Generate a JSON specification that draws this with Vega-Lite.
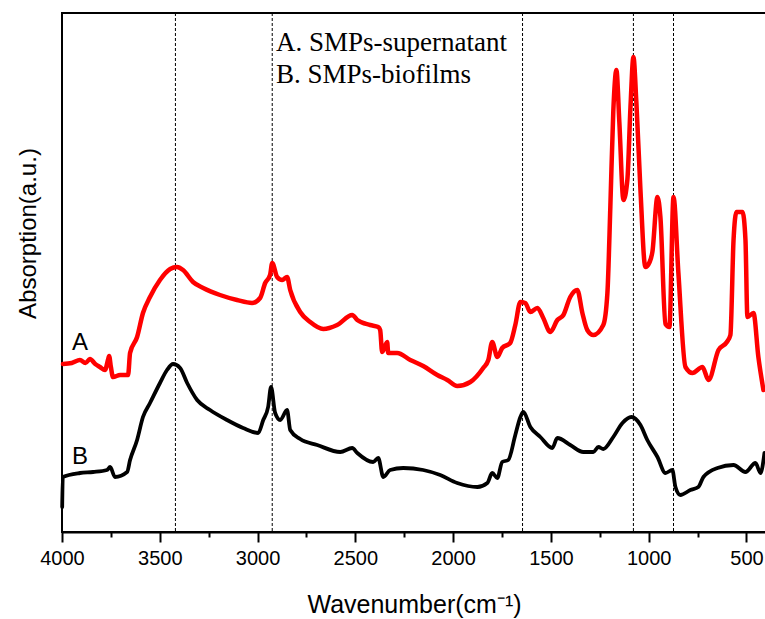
{
  "$schema": "https://vega.github.io/schema/vega-lite/v6.json",
  "width": 704,
  "height": 519,
  "autosize": {"type": "none"},
  "padding": {"left": 62, "top": 13, "right": 0, "bottom": 87},
  "background": "white",
  "config": {
    "view": {"stroke": "black", "strokeWidth": 2},
    "font": "Liberation Sans"
  },
  "datasets": {
    "spectra": [
      {"series":"A","wn":3995,"abs":168},{"series":"A","wn":3950,"abs":169},{"series":"A","wn":3908,"abs":172},{"series":"A","wn":3880,"abs":169},{"series":"A","wn":3857,"abs":173},{"series":"A","wn":3830,"abs":168},{"series":"A","wn":3806,"abs":165},{"series":"A","wn":3780,"abs":162},{"series":"A","wn":3765,"abs":172},{"series":"A","wn":3759,"abs":176},{"series":"A","wn":3750,"abs":165},{"series":"A","wn":3739,"abs":155},{"series":"A","wn":3703,"abs":157},{"series":"A","wn":3662,"abs":157},{"series":"A","wn":3652,"abs":179},{"series":"A","wn":3616,"abs":195},{"series":"A","wn":3586,"abs":219},{"series":"A","wn":3550,"abs":235},{"series":"A","wn":3499,"abs":252},{"series":"A","wn":3447,"abs":263},{"series":"A","wn":3412,"abs":265},{"series":"A","wn":3381,"abs":262},{"series":"A","wn":3330,"abs":250},{"series":"A","wn":3278,"abs":244},{"series":"A","wn":3192,"abs":237},{"series":"A","wn":3105,"abs":232},{"series":"A","wn":3028,"abs":229},{"series":"A","wn":2987,"abs":234},{"series":"A","wn":2961,"abs":249},{"series":"A","wn":2936,"abs":257},{"series":"A","wn":2925,"abs":269},{"series":"A","wn":2900,"abs":255},{"series":"A","wn":2874,"abs":252},{"series":"A","wn":2849,"abs":255},{"series":"A","wn":2833,"abs":242},{"series":"A","wn":2782,"abs":220},{"series":"A","wn":2731,"abs":210},{"series":"A","wn":2664,"abs":203},{"series":"A","wn":2593,"abs":207},{"series":"A","wn":2516,"abs":217},{"series":"A","wn":2490,"abs":212},{"series":"A","wn":2424,"abs":207},{"series":"A","wn":2383,"abs":205},{"series":"A","wn":2373,"abs":202},{"series":"A","wn":2363,"abs":180},{"series":"A","wn":2337,"abs":190},{"series":"A","wn":2332,"abs":179},{"series":"A","wn":2286,"abs":179},{"series":"A","wn":2219,"abs":172},{"series":"A","wn":2153,"abs":166},{"series":"A","wn":2081,"abs":157},{"series":"A","wn":2030,"abs":152},{"series":"A","wn":1979,"abs":146},{"series":"A","wn":1912,"abs":150},{"series":"A","wn":1846,"abs":164},{"series":"A","wn":1820,"abs":172},{"series":"A","wn":1800,"abs":190},{"series":"A","wn":1774,"abs":175},{"series":"A","wn":1749,"abs":184},{"series":"A","wn":1708,"abs":189},{"series":"A","wn":1682,"abs":207},{"series":"A","wn":1656,"abs":230},{"series":"A","wn":1631,"abs":229},{"series":"A","wn":1605,"abs":220},{"series":"A","wn":1569,"abs":224},{"series":"A","wn":1539,"abs":214},{"series":"A","wn":1503,"abs":200},{"series":"A","wn":1467,"abs":212},{"series":"A","wn":1436,"abs":217},{"series":"A","wn":1401,"abs":235},{"series":"A","wn":1365,"abs":242},{"series":"A","wn":1339,"abs":219},{"series":"A","wn":1314,"abs":202},{"series":"A","wn":1283,"abs":197},{"series":"A","wn":1232,"abs":207},{"series":"A","wn":1211,"abs":239},{"series":"A","wn":1196,"abs":325},{"series":"A","wn":1181,"abs":420},{"series":"A","wn":1165,"abs":462},{"series":"A","wn":1150,"abs":410},{"series":"A","wn":1129,"abs":332},{"series":"A","wn":1109,"abs":352},{"series":"A","wn":1093,"abs":425},{"series":"A","wn":1078,"abs":475},{"series":"A","wn":1063,"abs":430},{"series":"A","wn":1042,"abs":342},{"series":"A","wn":1017,"abs":265},{"series":"A","wn":995,"abs":270},{"series":"A","wn":981,"abs":280},{"series":"A","wn":955,"abs":335},{"series":"A","wn":940,"abs":315},{"series":"A","wn":914,"abs":208},{"series":"A","wn":894,"abs":205},{"series":"A","wn":873,"abs":335},{"series":"A","wn":848,"abs":259},{"series":"A","wn":812,"abs":165},{"series":"A","wn":776,"abs":159},{"series":"A","wn":725,"abs":165},{"series":"A","wn":694,"abs":152},{"series":"A","wn":643,"abs":182},{"series":"A","wn":600,"abs":190},{"series":"A","wn":582,"abs":197},{"series":"A","wn":566,"abs":292},{"series":"A","wn":551,"abs":320},{"series":"A","wn":520,"abs":320},{"series":"A","wn":505,"abs":292},{"series":"A","wn":495,"abs":215},{"series":"A","wn":464,"abs":219},{"series":"A","wn":439,"abs":175},{"series":"A","wn":413,"abs":142},
      {"series":"B","wn":3999,"abs":25},{"series":"B","wn":3996,"abs":55},{"series":"B","wn":3908,"abs":59},{"series":"B","wn":3841,"abs":60},{"series":"B","wn":3770,"abs":62},{"series":"B","wn":3754,"abs":65},{"series":"B","wn":3729,"abs":55},{"series":"B","wn":3667,"abs":60},{"series":"B","wn":3652,"abs":72},{"series":"B","wn":3616,"abs":92},{"series":"B","wn":3586,"abs":115},{"series":"B","wn":3550,"abs":129},{"series":"B","wn":3499,"abs":149},{"series":"B","wn":3463,"abs":162},{"series":"B","wn":3432,"abs":168},{"series":"B","wn":3396,"abs":164},{"series":"B","wn":3360,"abs":149},{"series":"B","wn":3309,"abs":132},{"series":"B","wn":3243,"abs":122},{"series":"B","wn":3156,"abs":112},{"series":"B","wn":3074,"abs":104},{"series":"B","wn":2997,"abs":99},{"series":"B","wn":2971,"abs":112},{"series":"B","wn":2946,"abs":125},{"series":"B","wn":2931,"abs":145},{"series":"B","wn":2910,"abs":119},{"series":"B","wn":2884,"abs":112},{"series":"B","wn":2849,"abs":122},{"series":"B","wn":2833,"abs":102},{"series":"B","wn":2782,"abs":93},{"series":"B","wn":2695,"abs":87},{"series":"B","wn":2577,"abs":80},{"series":"B","wn":2516,"abs":84},{"series":"B","wn":2490,"abs":79},{"series":"B","wn":2409,"abs":70},{"series":"B","wn":2383,"abs":74},{"series":"B","wn":2357,"abs":55},{"series":"B","wn":2322,"abs":62},{"series":"B","wn":2255,"abs":64},{"series":"B","wn":2153,"abs":62},{"series":"B","wn":2066,"abs":57},{"series":"B","wn":1979,"abs":49},{"series":"B","wn":1876,"abs":45},{"series":"B","wn":1825,"abs":49},{"series":"B","wn":1800,"abs":59},{"series":"B","wn":1774,"abs":54},{"series":"B","wn":1749,"abs":70},{"series":"B","wn":1718,"abs":72},{"series":"B","wn":1682,"abs":97},{"series":"B","wn":1656,"abs":115},{"series":"B","wn":1641,"abs":120},{"series":"B","wn":1605,"abs":105},{"series":"B","wn":1554,"abs":95},{"series":"B","wn":1493,"abs":84},{"series":"B","wn":1467,"abs":94},{"series":"B","wn":1401,"abs":87},{"series":"B","wn":1334,"abs":80},{"series":"B","wn":1283,"abs":80},{"series":"B","wn":1257,"abs":85},{"series":"B","wn":1232,"abs":83},{"series":"B","wn":1181,"abs":95},{"series":"B","wn":1134,"abs":109},{"series":"B","wn":1088,"abs":115},{"series":"B","wn":1042,"abs":107},{"series":"B","wn":1007,"abs":92},{"series":"B","wn":955,"abs":75},{"series":"B","wn":914,"abs":59},{"series":"B","wn":879,"abs":62},{"series":"B","wn":863,"abs":45},{"series":"B","wn":838,"abs":37},{"series":"B","wn":787,"abs":42},{"series":"B","wn":746,"abs":45},{"series":"B","wn":720,"abs":55},{"series":"B","wn":648,"abs":64},{"series":"B","wn":566,"abs":67},{"series":"B","wn":505,"abs":60},{"series":"B","wn":454,"abs":69},{"series":"B","wn":428,"abs":59},{"series":"B","wn":408,"abs":79}
    ],
    "marks": [{"wn":3420},{"wn":2925},{"wn":1645},{"wn":1078},{"wn":873}],
    "curveLabels": [{"wn":3908,"abs":189,"label":"A"},{"wn":3908,"abs":75,"label":"B"}],
    "notes": [{"wn":2906,"abs":481,"label":"A. SMPs-supernatant"},{"wn":2906,"abs":449,"label":"B. SMPs-biofilms"}]
  },
  "layer": [
    {
      "data": {"name": "marks"},
      "mark": {"type": "rule", "color": "black", "strokeWidth": 1, "strokeDash": [3, 2]},
      "encoding": {
        "x": {"field": "wn", "type": "quantitative", "scale": {"domain": [400, 4000], "reverse": true, "zero": false}}
      }
    },
    {
      "data": {"name": "spectra"},
      "mark": {"type": "line", "strokeJoin": "round", "strokeCap": "round", "interpolate": "monotone"},
      "encoding": {
        "x": {"field": "wn", "type": "quantitative", "scale": {"domain": [400, 4000], "reverse": true, "zero": false},
          "axis": {"orient": "bottom",
            "values": [4000, 3750, 3500, 3250, 3000, 2750, 2500, 2250, 2000, 1750, 1500, 1250, 1000, 750, 500],
            "labelExpr": "datum.value % 500 === 0 ? format(datum.value, 'd') : ''",
            "title": "Wavenumber(cm⁻¹)", "titleFontSize": 25, "titleFontWeight": "normal", "titleColor": "black",
            "titleFont": "Liberation Sans", "titleBaseline": "alphabetic", "titleY": 80,
            "labelFontSize": 20, "labelColor": "black", "labelFont": "Liberation Sans", "labelPadding": 6,
            "tickSize": 10,
            "tickDash": {"condition": {"test": "datum.value % 500 !== 0", "value": [5, 30]}, "value": []},
            "tickWidth": 2, "tickColor": "black", "domainColor": "black", "domainWidth": 2, "grid": false, "labelFlush": false}},
        "y": {"field": "abs", "type": "quantitative", "scale": {"domain": [0, 519], "zero": false},
          "axis": {"title": "Absorption(a.u.)", "titleFontSize": 24, "titleFontWeight": "normal", "titleColor": "black",
            "titleFont": "Liberation Sans", "titleBaseline": "middle", "titleAngle": 270, "titleX": -34, "titleY": 220,
            "labels": false, "ticks": false, "domain": false, "grid": false}},
        "color": {"field": "series", "type": "nominal", "scale": {"domain": ["A", "B"], "range": ["#ff0000", "#000000"]}, "legend": null},
        "strokeWidth": {"field": "series", "type": "nominal", "scale": {"domain": ["A", "B"], "range": [4.5, 3.8]}, "legend": null}
      }
    },
    {
      "data": {"name": "curveLabels"},
      "mark": {"type": "text", "font": "Liberation Sans", "fontSize": 24, "color": "black", "align": "center", "baseline": "middle"},
      "encoding": {
        "x": {"field": "wn", "type": "quantitative", "scale": {"domain": [400, 4000], "reverse": true, "zero": false}},
        "y": {"field": "abs", "type": "quantitative", "scale": {"domain": [0, 519], "zero": false}},
        "text": {"field": "label"}
      }
    },
    {
      "data": {"name": "notes"},
      "mark": {"type": "text", "font": "Liberation Serif", "fontSize": 27, "color": "black", "align": "left", "baseline": "alphabetic"},
      "encoding": {
        "x": {"field": "wn", "type": "quantitative", "scale": {"domain": [400, 4000], "reverse": true, "zero": false}},
        "y": {"field": "abs", "type": "quantitative", "scale": {"domain": [0, 519], "zero": false}},
        "text": {"field": "label"}
      }
    }
  ]
}
